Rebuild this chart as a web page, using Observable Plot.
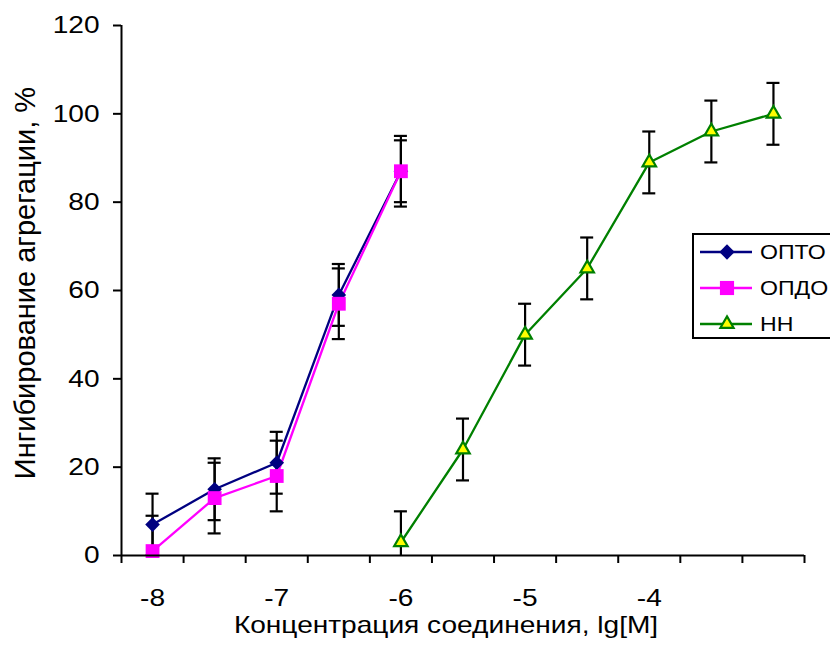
<!DOCTYPE html>
<html>
<head>
<meta charset="utf-8">
<script src="https://cdn.jsdelivr.net/npm/d3@7"></script>
<script src="https://cdn.jsdelivr.net/npm/@observablehq/plot@0.6"></script>
<style>
  html, body { margin: 0; padding: 0; background: #fff; overflow: hidden; }
  #wrap { position: relative; width: 830px; height: 648px; overflow: hidden; }
  #legend { position: absolute; left: 692px; top: 233px; width: 160px; height: 102px;
            border: 2px solid #000; background: #fff; font-family: "Liberation Sans", Arial, sans-serif; }
  .lrow { position: absolute; left: 0; height: 30px; display: flex; align-items: center; }
  .lrow span { font-size: 21px; margin-left: 4px; display: inline-block; transform: scaleX(1.1); transform-origin: left center; }
</style>
</head>
<body>
<div id="wrap"><div id="chart"></div><div id="legend"></div></div>
<script>
// ---- data ----
const seriesNames = ["ОПТО", "ОПДО", "НН"];
const xOP = [-8, -7.5, -7, -6.5, -6];
const optoValues = [7, 15, 21, 59, 87];
const optoErr = [7, 7, 7, 7, 7];
const opdoValues = [1, 13, 18, 57, 87];
const opdoErr = [8, 8, 8, 8, 8];
const xNN = [-6, -5.5, -5, -4.5, -4, -3.5, -3];
const nnValues = [3, 24, 50, 65, 89, 96, 100];
const nnErr = [7, 7, 7, 7, 7, 7, 7];
const xTickLabels = [-8, -7, -6, -5, -4];
const xTickMarks = [-8.25, -7.75, -7.25, -6.75, -6.25, -5.75, -5.25, -4.75, -4.25, -3.75, -3.25, -2.75];
const yTicks = [0, 20, 40, 60, 80, 100, 120];
const xTitle = "Концентрация соединения, lg[M]";
const yTitle = "Ингибирование агрегации, %";

// ---- build tables ----
const colors = {"ОПТО": "#000080", "ОПДО": "#FF00FF", "НН": "#008000"};
function rows(name, xs, vs, es) {
  return xs.map((x, i) => ({series: name, x, v: vs[i], lo: vs[i] - es[i], hi: vs[i] + es[i]}));
}
const opto = rows("ОПТО", xOP, optoValues, optoErr);
const opdo = rows("ОПДО", xOP, opdoValues, opdoErr);
const nn = rows("НН", xNN, nnValues, nnErr);
const all = [...opto, ...opdo, ...nn];
const caps = all.flatMap(d => [{x: d.x, y: d.lo}, {x: d.x, y: d.hi}]);

const font = '"Liberation Sans", Arial, sans-serif';
const stretch = 1.17;

const chart = Plot.plot({
  width: 830,
  height: 648,
  marginLeft: 121,
  marginRight: 26,
  marginTop: 25,
  marginBottom: 93,
  style: {fontFamily: font, fontSize: "24px", background: "white", color: "black"},
  x: {domain: [xTickMarks[0], xTickMarks[xTickMarks.length - 1]]},
  y: {domain: [yTicks[0], yTicks[yTicks.length - 1]]},
  marks: [
    // error bars
    Plot.ruleX(all, {x: "x", y1: "lo", y2: "hi", stroke: "black", strokeWidth: 2.2, clip: true}),
    Plot.ruleY(caps, {y: "y", x1: "x", x2: "x", insetLeft: -6.5, insetRight: -6.5, stroke: "black", strokeWidth: 2.2, clip: true}),
    // lines
    Plot.line(opto, {x: "x", y: "v", stroke: colors["ОПТО"], strokeWidth: 2.3}),
    Plot.line(opdo, {x: "x", y: "v", stroke: colors["ОПДО"], strokeWidth: 2.3}),
    Plot.line(nn, {x: "x", y: "v", stroke: colors["НН"], strokeWidth: 2.3}),
    // markers
    Plot.dot(opto, {x: "x", y: "v", symbol: "diamond2", r: 6.6, fill: colors["ОПТО"], stroke: "none"}),
    Plot.dot(opdo, {x: "x", y: "v", symbol: "square", r: 7.8, fill: colors["ОПДО"], stroke: "none"}),
    Plot.dot(nn, {x: "x", y: "v", symbol: "triangle", r: 5, fill: "#FFFF00", stroke: colors["НН"], strokeWidth: 2.2}),
    // axes
    Plot.ruleY([yTicks[0]], {stroke: "black", strokeWidth: 2}),
    Plot.ruleX([xTickMarks[0]], {stroke: "black", strokeWidth: 2}),
    Plot.axisY({ticks: yTicks, tickSize: 8, tickPadding: 14, strokeWidth: 2, label: null, tickFormat: d => String(d)}),
    Plot.axisX({ticks: xTickMarks, tickSize: 8, strokeWidth: 2, label: null, tickFormat: () => ""}),
    Plot.axisX({ticks: xTickLabels, tickSize: 0, tickPadding: 33, label: null, tickFormat: d => String(d)}),
    Plot.text([xTitle], {frameAnchor: "bottom", textAnchor: "middle", dy: 77, dx: -17, fontSize: 24, fill: "black"}),
    Plot.text([yTitle], {frameAnchor: "left", textAnchor: "middle", rotate: -90, dx: -96, dy: -7.5, fontSize: 29, fill: "black"})
  ]
});
document.getElementById("chart").appendChild(chart);

// horizontal stretch of the horizontal texts, as in the reference rendering
chart.querySelectorAll("text").forEach(t => {
  if (!t.textContent) return;
  const tf = t.getAttribute("transform") || "";
  if (/rotate/.test(tf)) return;
  const len = t.getComputedTextLength();
  if (len > 0) {
    t.setAttribute("textLength", (len * stretch).toFixed(2));
    t.setAttribute("lengthAdjust", "spacingAndGlyphs");
  }
});

// ---- legend ----
const legend = d3.select("#legend");
const symbols = {"ОПТО": d3.symbolDiamond2, "ОПДО": d3.symbolSquare, "НН": d3.symbolTriangle};
const sizes = {"ОПТО": 150, "ОПДО": 200, "НН": 75};
seriesNames.forEach((name, i) => {
  const row = legend.append("div").attr("class", "lrow").style("top", (1.5 + i * 36) + "px");
  const svg = row.append("svg").attr("width", 62).attr("height", 30);
  svg.append("line").attr("x1", 6).attr("x2", 58).attr("y1", 15).attr("y2", 15)
    .attr("stroke", colors[name]).attr("stroke-width", 2.3);
  svg.append("path").attr("transform", "translate(33,15)")
    .attr("d", d3.symbol(symbols[name], sizes[name])())
    .attr("fill", name === "НН" ? "#FFFF00" : colors[name])
    .attr("stroke", name === "НН" ? colors[name] : "none")
    .attr("stroke-width", 2.2);
  row.append("span").text(name);
});
</script>
</body>
</html>
